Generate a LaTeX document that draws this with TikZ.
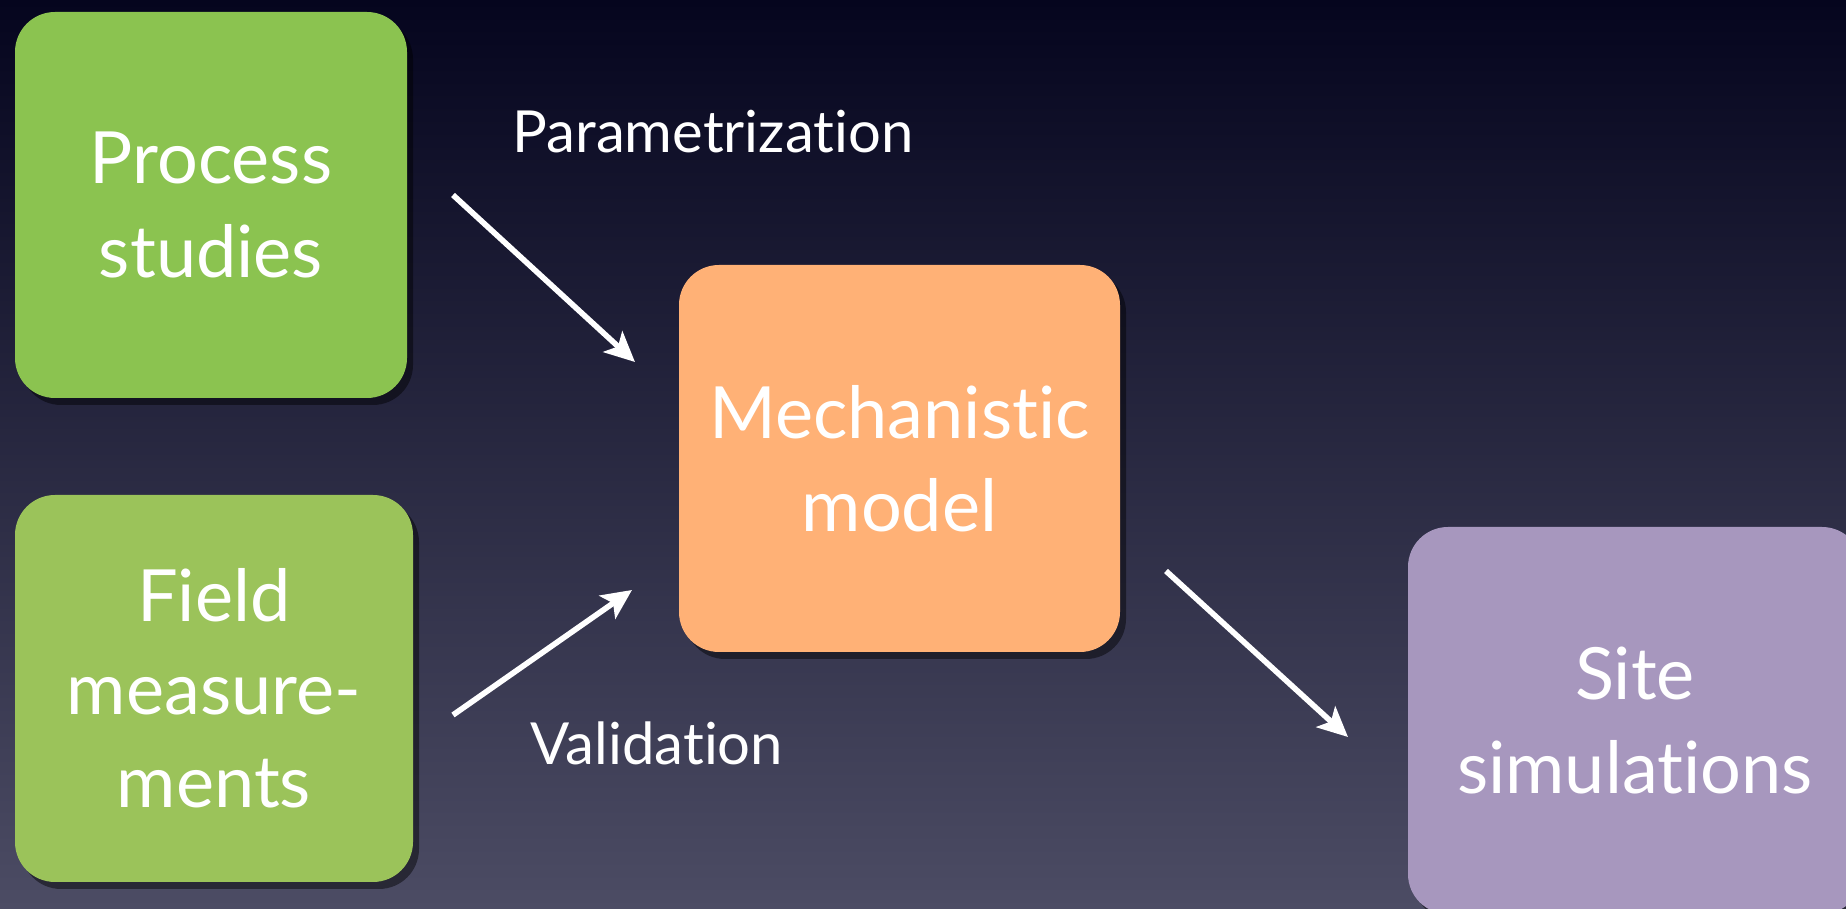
\documentclass[tikz,border=0pt]{standalone}
\usepackage{fontspec}
\setmainfont{Lato}[Ligatures={NoCommon}]
\usetikzlibrary{arrows.meta,shadows}
\definecolor{bgtop}{RGB}{5,5,30}
\definecolor{bgmid}{RGB}{28,28,55}
\definecolor{bgbot}{RGB}{76,76,100}
\definecolor{procgreen}{RGB}{139,195,80}
\definecolor{fieldgreen}{RGB}{155,195,90}
\definecolor{mechorange}{RGB}{255,177,118}
\definecolor{sitepurple}{RGB}{167,151,190}
\begin{document}
\begin{tikzpicture}[
  box/.style={rounded corners=0.4cm, text=white, align=center, inner sep=0pt,
    font=\fontsize{20.5}{26.5}\selectfont,
    drop shadow={shadow xshift=0.06cm, shadow yshift=-0.07cm, opacity=0.45, fill=black}},
  lbl/.style={text=white, anchor=base, font=\fontsize{16.5}{20}\selectfont},
  link/.style={white, line width=1.6pt, -{Stealth[length=0.3cm, width=0.28cm, inset=0.07cm]}}
]
\useasboundingbox (0,0) rectangle (18.46,9.09);
\clip (0,0) rectangle (18.46,9.09);
\shade[top color=bgtop, middle color=bgmid, bottom color=bgbot] (0,0) rectangle (18.46,9.09);
\coordinate (P) at (2.11,7.04);
\coordinate (F) at (2.14,2.205);
\coordinate (M) at (8.995,4.505);
\coordinate (S) at (16.35,1.885);
\coordinate (p1) at (4.53,7.14);
\coordinate (p2) at (6.35,5.47);
\coordinate (v1) at (4.53,1.94);
\coordinate (v2) at (6.32,3.19);
\coordinate (s1) at (11.66,3.38);
\coordinate (s2) at (13.48,1.72);
\node[box, fill=procgreen, minimum width=3.92cm, minimum height=3.86cm] (proc) at (P) {Process\\studies};
\node[box, fill=fieldgreen, minimum width=3.98cm, minimum height=3.87cm] (field) at (F) {Field\\measure-\\ments};
\node[box, fill=mechorange, minimum width=4.41cm, minimum height=3.87cm] (mech) at (M) {Mechanistic\\model};
\node[box, fill=sitepurple, minimum width=4.54cm, minimum height=3.87cm] (site) at (S) {Site\\simulations};
\draw[link] (p1) -- (p2);
\draw[link] (v1) -- (v2);
\draw[link] (s1) -- (s2);
\node[lbl] (param) at (7.13,7.56) {Parametrization};
\node[lbl] (valid) at (6.57,1.44) {Validation};
\end{tikzpicture}
\end{document}
